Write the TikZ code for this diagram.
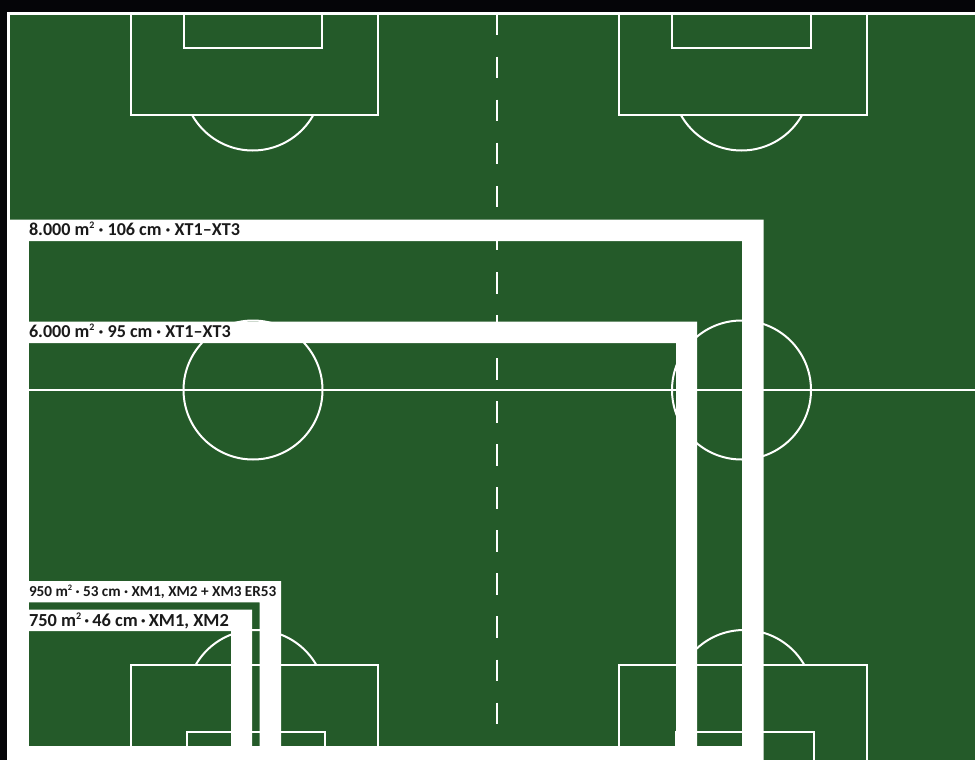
\documentclass[tikz,border=0pt]{standalone}
\usepackage{fontspec}
\setmainfont{Carlito}
\definecolor{pitch}{HTML}{245A29}
\definecolor{inkk}{HTML}{1A1A1A}
\definecolor{bgk}{HTML}{050508}
\newcommand{\sqmark}{\raisebox{0.36em}{\fontsize{0.55em}{1em}\selectfont 2}}
\tikzset{
 x=0.75pt,y=-0.75pt,
 pl/.style={draw=white,line width=1.5pt,line join=miter},
 band/.style={fill=white,draw=none},
 lab/.style={anchor=base west,inner sep=0pt,outer sep=0pt,text=inkk,font=\bfseries}
}
\begin{document}
\begin{tikzpicture}
\useasboundingbox (0,0) rectangle (975,760);
\fill[bgk] (0,0) rectangle (975,760);
\fill[white] (7,12) rectangle (975,760);
\fill[pitch] (10,14.5) rectangle (975,760);
% white outer margin below the first band
\fill[band] (7,219.5) rectangle (29,760);
% pitch markings, top
\draw[pl] (131,14) -- (131,115) -- (378,115) -- (378,14);
\draw[pl] (184,14) -- (184,48) -- (322,48) -- (322,14);
\draw[pl] (619,14) -- (619,115) -- (867,115) -- (867,14);
\draw[pl] (672,14) -- (672,48) -- (810.5,48) -- (810.5,14);
\begin{scope}
\clip (10,115.5) rectangle (975,200);
\draw[pl] (252.7,81) circle (69.5);
\draw[pl] (741.5,81) circle (69.5);
\end{scope}
% halfway markings
\draw[pl] (29,389.5) -- (975,389.5);
\draw[pl] (253,390) circle (69.5);
\draw[pl] (741.5,390) circle (69.5);
% pitch markings, bottom
\begin{scope}
\clip (10,500) rectangle (975,664.5);
\draw[pl] (256,699.5) circle (69.5);
\draw[pl] (744,699.5) circle (69.5);
\end{scope}
\draw[pl] (131,760) -- (131,665) -- (378,665) -- (378,760);
\draw[pl] (187,760) -- (187,732) -- (325,732) -- (325,760);
\draw[pl] (619,760) -- (619,665) -- (867,665) -- (867,760);
\draw[pl] (675.5,760) -- (675.5,732) -- (813.5,732) -- (813.5,760);
% dashed centre line
\draw[draw=white,line width=1.5pt,dash pattern=on 16.2pt off 16.1pt] (497,13.5) -- (497,740);
% bands
\fill[band] (7,219.5) -| (763.5,760) -- (7,760) -- (7,746) -- (742,746) -- (742,241) -- (7,241) -- cycle;
\fill[band] (29,321.5) -| (697,746) -- (676,746) -- (676,343) -- (29,343) -- cycle;
\fill[band] (29,581) -| (281,746) -- (259.5,746) -- (259.5,602.3) -- (29,602.3) -- cycle;
\fill[band] (29,609.5) -| (252,746) -- (231,746) -- (231,631) -- (29,631) -- cycle;
% labels
\node[lab,font=\bfseries\fontsize{13.6pt}{15pt}\selectfont] (l8000) at (29,235.5) {8.000 m\sqmark{} · 106 cm · XT1–XT3};
\node[lab,font=\bfseries\fontsize{13.6pt}{15pt}\selectfont] (l6000) at (29,337.5) {6.000 m\sqmark{} · 95 cm · XT1–XT3};
\node[lab,font=\bfseries\fontsize{11.4pt}{13pt}\selectfont] (l950) at (29,596) {950 m\sqmark{} · 53 cm · XM1, XM2 + XM3 ER53};
\node[lab,font=\bfseries\fontsize{13.8pt}{15pt}\selectfont] (l750) at (29,626) {750 m\sqmark{}\,·\,46 cm\,·\,XM1, XM2};
\end{tikzpicture}
\end{document}
